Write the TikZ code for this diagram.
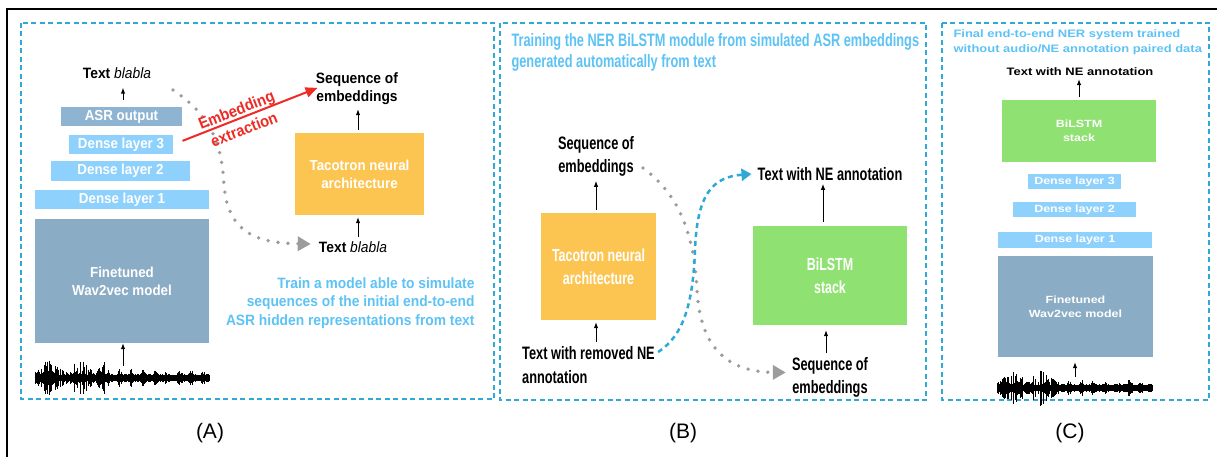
\documentclass[tikz,border=0pt]{standalone}
\usepackage{fontspec}
\setmainfont{Liberation Sans}
\newfontfamily\fa[FakeStretch=0.92]{Liberation Sans}
\newfontfamily\fb[FakeStretch=0.71]{Liberation Sans}
\newfontfamily\fc[FakeStretch=1.2]{Liberation Sans}
\usetikzlibrary{arrows.meta,calc}
\definecolor{dense}{HTML}{8ED1FC}
\definecolor{asr}{HTML}{8EB4D2}
\definecolor{ft}{HTML}{8AACC5}
\definecolor{taco}{HTML}{FCC552}
\definecolor{bil}{HTML}{8FE272}
\definecolor{cyantxt}{HTML}{5DC3F5}
\definecolor{frame}{HTML}{2EA9D6}
\definecolor{dotg}{HTML}{9C9C9C}
\definecolor{redar}{HTML}{EE2B24}
\newcommand\mywave[4]{%
  \pgfmathsetseed{#4}%
  \draw[line width=4pt] (#1,#3) -- ({#1+#2},#3);
  \foreach \i in {0,...,#2}{%
    \pgfmathsetmacro\hh{(\i<0.4*#2) ? (3+(3+12*abs(sin(\i*6)))*rnd) : (2.5+6*(abs(cos(\i*15))^6)*rnd+1.5*rnd)}%
    \draw[line width=0.9pt] ({#1+\i},{#3-\hh}) -- ({#1+\i},{#3+\hh});
  }}
\begin{document}
\begin{tikzpicture}[x=1pt,y=-1pt,
  pbox/.style={draw=frame, line width=2pt, dash pattern=on 5pt off 3.5pt},
  boxa/.style={inner sep=0pt, text=white, align=center, font=\fa\bfseries\fontsize{14.5}{18}\selectfont},
  boxb/.style={inner sep=0pt, text=white, align=center, font=\fb\bfseries\fontsize{17.5}{23}\selectfont},
  boxc/.style={inner sep=0pt, text=white, align=center, font=\fc\bfseries\fontsize{10.4}{14}\selectfont},
  txa/.style={inner sep=1pt, align=center, font=\fa\bfseries\fontsize{15}{18}\selectfont},
  txb/.style={inner sep=1pt, align=center, font=\fb\bfseries\fontsize{18}{23.5}\selectfont},
  txc/.style={inner sep=1pt, align=center, font=\fc\bfseries\fontsize{10.8}{14}\selectfont},
  arr/.style={-{Latex[length=6pt,width=4.5pt]}, line width=1pt},
  gdot/.style={dotg, line width=3.8pt, line cap=round, dash pattern=on 0pt off 10pt, -{Triangle[length=13pt,width=14pt]}},
  cdash/.style={frame, line width=2.5pt, dash pattern=on 5pt off 4pt, -{Triangle[length=10pt,width=12pt]}},
  redarr/.style={redar, line width=2pt, -{Triangle[length=12pt,width=10pt]}},
  plabel/.style={font=\fontsize{21}{25}\selectfont}
]
\useasboundingbox (0,0) rectangle (1217,457);
\fill[white] (0,0) rectangle (1217,457);
% outer frame
\draw[line width=1.2pt] (7,457) -- (7,9) -- (1217,9);
% panels
\draw[pbox] (21,23) rectangle (494,399);
\draw[pbox] (500,23) rectangle (926,400);
\draw[pbox] (942,23) rectangle (1209,400);
\node[plabel] (lA) at (210,433) {(A)};
\node[plabel] (lB) at (683,433) {(B)};
\node[plabel] (lC) at (1070,433) {(C)};

% ---------- Panel A ----------
\node[boxa, fill=asr, minimum width=121pt, minimum height=19pt] (asrA) at (121.5,116.5) {ASR output};
\node[boxa, fill=dense, minimum width=104pt, minimum height=19pt] (d3A) at (121,144.5) {Dense layer 3};
\node[boxa, fill=dense, minimum width=139pt, minimum height=20pt] (d2A) at (120.5,171) {Dense layer 2};
\node[boxa, fill=dense, minimum width=174pt, minimum height=19pt] (d1A) at (122,199.5) {Dense layer 1};
\node[boxa, fill=ft, minimum width=174pt, minimum height=124pt] (ftA) at (122,281) {Finetuned\\Wav2vec model};
\node[txa] (txtA) at (117,73) {Text \textit{\mdseries blabla}};
\mywave{35}{174}{378}{7}
\coordinate (wA) at (123,366);
\draw[arr] (wA) -- (wA |- ftA.south);
\draw[arr, shorten <=7pt, shorten >=8pt] (asrA.north -| 123,0) -- (txtA.south -| 123,0);

\node[txa] (seqA) at (357,89) {Sequence of\\embeddings};
\node[boxa, fill=taco, minimum width=129pt, minimum height=82pt] (tacoA) at (359.5,174) {Tacotron neural\\architecture};
\node[txa] (txtA2) at (353,247) {Text \textit{\mdseries blabla}};
\draw[arr, shorten <=3pt, shorten >=3pt] (tacoA.north -| 358,0) -- (seqA.south -| 358,0);
\draw[arr, shorten <=3pt, shorten >=2pt] (txtA2.north -| 358,0) -- (tacoA.south -| 358,0);
\coordinate (gA) at (173,90);
\draw[gdot] (gA) .. controls (215,118) and (222,150) .. (224,185)
  .. controls (228,235) and (260,243) .. ([xshift=-7pt,yshift=3pt]txtA2.west);
\draw[redarr, shorten <=10pt, shorten >=-3pt] (d3A.east) -- node[pos=0.47, sloped, yshift=-1.2pt, align=center, text=redar, font=\fa\bfseries\fontsize{16}{21}\selectfont] {Embedding\\extraction} (seqA.west);
\node[anchor=east, align=right, text=cyantxt, font=\fa\bfseries\fontsize{15}{18.5}\selectfont] (noteA) at (478,303) {Train a model able to simulate\\sequences of the initial end-to-end\\ASR hidden representations from text};

% ---------- Panel B ----------
\node[anchor=west, align=left, text=cyantxt, font=\fb\bfseries\fontsize{18}{21}\selectfont] (titB) at (508,52.5) {Training the NER BiLSTM module from simulated ASR embeddings\\generated automatically from text};
\node[txb] (seqB1) at (596,156.5) {Sequence of\\embeddings};
\node[boxb, fill=taco, minimum width=115pt, minimum height=107pt] (tacoB) at (598.5,266.5) {Tacotron neural\\architecture};
\node[txb, align=left, anchor=west] (txtB1) at (521,365) {Text with removed NE\\annotation};
\draw[arr, shorten <=3pt, shorten >=3pt] (tacoB.north -| 596,0) -- (seqB1.south -| 596,0);
\draw[arr, shorten <=3pt, shorten >=2pt] (txtB1.north -| 596,0) -- (tacoB.south -| 596,0);
\node[boxb, fill=bil, minimum width=154pt, minimum height=99pt] (bilB) at (830,275.5) {BiLSTM\\stack};
\node[txb] (txtB2) at (830,174) {Text with NE annotation};
\node[txb] (seqB2) at (830,377.5) {Sequence of\\embeddings};
\draw[arr, shorten <=4pt, shorten >=2pt] (bilB.north -| 823,0) -- (txtB2.south -| 823,0);
\draw[arr, shorten <=3pt, shorten >=5pt] (seqB2.north -| 826,0) -- (bilB.south -| 826,0);
\coordinate (gB) at (643,168);
\draw[gdot] (gB) .. controls (680,195) and (694,235) .. (697,290)
  .. controls (700,345) and (725,372) .. ([xshift=-5pt,yshift=5pt]seqB2.west);
\coordinate (cB) at (658,352);
\draw[cdash] (cB) .. controls (685,335) and (693,300) .. (695,250)
  .. controls (697,195) and (712,177) .. ([xshift=-5pt]txtB2.west);

% ---------- Panel C ----------
\node[anchor=west, align=left, text=cyantxt, font=\fc\bfseries\fontsize{10.8}{15}\selectfont] (titC) at (950,42.5) {Final end-to-end NER system trained\\without audio/NE annotation paired data};
\node[txc] (txtC) at (1080,72) {Text with NE annotation};
\node[boxc, fill=bil, minimum width=154pt, minimum height=62pt] (bilC) at (1079,131) {BiLSTM\\stack};
\node[boxc, fill=dense, minimum width=93pt, minimum height=15pt] (d3C) at (1074.5,181.5) {Dense layer 3};
\node[boxc, fill=dense, minimum width=123pt, minimum height=15pt] (d2C) at (1074.5,209.5) {Dense layer 2};
\node[boxc, fill=dense, minimum width=154pt, minimum height=16pt] (d1C) at (1075,240) {Dense layer 1};
\node[boxc, fill=ft, minimum width=155pt, minimum height=101pt] (ftC) at (1075.5,306.5) {Finetuned\\Wav2vec model};
\draw[arr, shorten <=3pt, shorten >=2pt] (bilC.north -| 1079,0) -- (txtC.south -| 1079,0);
\mywave{997}{155}{388}{11}
\coordinate (wC) at (1075,377);
\draw[arr, shorten >=5pt] (wC) -- (wC |- ftC.south);
\end{tikzpicture}
\end{document}
